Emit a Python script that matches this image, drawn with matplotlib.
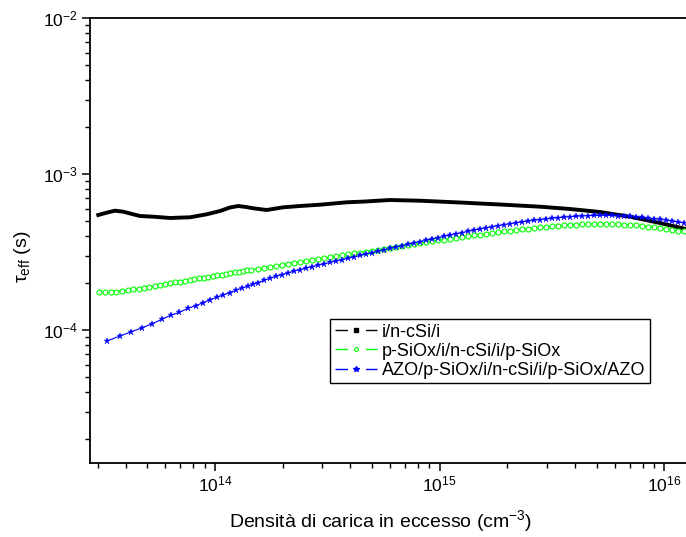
import matplotlib
matplotlib.use("Agg")
import matplotlib.pyplot as plt
from matplotlib.lines import Line2D
from matplotlib.ticker import LogLocator, NullFormatter

plt.rcParams['font.family'] = ['Liberation Sans', 'DejaVu Sans']
plt.rcParams['mathtext.fontset'] = 'custom'
plt.rcParams['mathtext.rm'] = 'Liberation Sans'
plt.rcParams['mathtext.it'] = 'Liberation Sans'
plt.rcParams['mathtext.default'] = 'regular'
plt.rcParams['axes.unicode_minus'] = False

# --- data (density in cm^-3, lifetime in s) ---
labels = ['i/n-cSi/i', 'p-SiOx/i/n-cSi/i/p-SiOx', 'AZO/p-SiOx/i/n-cSi/i/p-SiOx/AZO']

n_black = [3.024e13, 3.296e13, 3.589e13, 3.907e13, 4.272e13, 4.637e13, 5.314e13, 6.306e13,
           7.740e13, 9.186e13, 1.053e14, 1.166e14, 1.270e14, 1.374e14, 1.481e14, 1.698e14,
           2.014e14, 2.389e14, 2.934e14, 3.855e14, 4.651e14, 6.009e14, 8.172e14, 1.231e15,
           1.855e15, 2.796e15, 3.801e15, 5.169e15, 7.029e15, 9.559e15, 1.248e16]
tau_black = [5.460e-4, 5.651e-4, 5.819e-4, 5.732e-4, 5.541e-4, 5.380e-4, 5.325e-4, 5.224e-4,
             5.278e-4, 5.516e-4, 5.792e-4, 6.099e-4, 6.235e-4, 6.144e-4, 6.027e-4, 5.878e-4,
             6.117e-4, 6.235e-4, 6.356e-4, 6.584e-4, 6.662e-4, 6.812e-4, 6.742e-4, 6.565e-4,
             6.375e-4, 6.172e-4, 5.965e-4, 5.707e-4, 5.325e-4, 4.852e-4, 4.441e-4]

# low-injection points (sparse markers)
n_green_low = [3.047e13, 3.240e13, 3.435e13, 3.638e13, 3.867e13, 4.100e13, 4.329e13, 4.575e13,
               4.831e13, 5.101e13, 5.391e13, 5.675e13, 5.992e13, 6.306e13, 6.637e13, 6.985e13,
               7.353e13, 7.716e13, 8.089e13, 8.489e13, 8.907e13, 9.336e13, 9.797e13, 1.024e14,
               1.071e14, 1.119e14, 1.170e14, 1.224e14, 1.279e14, 1.336e14, 1.392e14, 1.450e14]
tau_green_low = [1.745e-4, 1.748e-4, 1.753e-4, 1.763e-4, 1.779e-4, 1.798e-4, 1.819e-4, 1.841e-4,
                 1.865e-4, 1.887e-4, 1.915e-4, 1.938e-4, 1.964e-4, 1.990e-4, 2.017e-4, 2.041e-4,
                 2.065e-4, 2.090e-4, 2.115e-4, 2.139e-4, 2.165e-4, 2.190e-4, 2.217e-4, 2.240e-4,
                 2.266e-4, 2.289e-4, 2.313e-4, 2.337e-4, 2.362e-4, 2.386e-4, 2.411e-4, 2.436e-4]

n_blue_low = [3.317e13, 3.778e13, 4.229e13, 4.748e13, 5.260e13, 5.810e13, 6.351e13, 6.936e13,
              7.559e13, 8.207e13, 8.870e13, 9.500e13, 1.018e14, 1.089e14, 1.163e14, 1.236e14,
              1.315e14, 1.398e14, 1.481e14]
tau_blue_low = [0.851e-4, 0.916e-4, 0.972e-4, 1.035e-4, 1.098e-4, 1.172e-4, 1.243e-4, 1.296e-4,
                1.375e-4, 1.432e-4, 1.497e-4, 1.565e-4, 1.622e-4, 1.677e-4, 1.735e-4, 1.798e-4,
                1.852e-4, 1.907e-4, 1.964e-4]

# high-injection part, read at common densities
n_high = [1.554e14, 1.652e14, 1.757e14, 1.868e14, 1.987e14, 2.113e14, 2.247e14, 2.389e14,
          2.541e14, 2.702e14, 2.873e14, 3.055e14, 3.249e14, 3.455e14, 3.674e14, 3.907e14,
          4.155e14, 4.418e14, 4.699e14, 4.997e14, 5.313e14, 5.650e14, 6.009e14, 6.390e14,
          6.795e14, 7.226e14, 7.684e14, 8.172e14, 8.690e14, 9.241e14, 9.827e14, 1.045e15,
          1.111e15, 1.182e15, 1.257e15, 1.337e15, 1.421e15, 1.511e15, 1.607e15, 1.709e15,
          1.818e15, 1.933e15, 2.056e15, 2.186e15, 2.325e15, 2.472e15, 2.629e15, 2.795e15,
          2.972e15, 3.161e15, 3.361e15, 3.574e15, 3.801e15, 4.042e15, 4.298e15, 4.571e15,
          4.861e15, 5.169e15, 5.497e15, 5.845e15, 6.216e15, 6.610e15, 7.029e15, 7.475e15,
          7.949e15, 8.453e15, 8.989e15, 9.559e15, 1.017e16, 1.081e16, 1.150e16, 1.223e16]
tau_green_high = [2.468e-4, 2.509e-4, 2.546e-4, 2.584e-4, 2.627e-4, 2.665e-4, 2.705e-4, 2.745e-4,
                  2.786e-4, 2.824e-4, 2.861e-4, 2.899e-4, 2.938e-4, 2.978e-4, 3.017e-4, 3.053e-4,
                  3.094e-4, 3.135e-4, 3.177e-4, 3.220e-4, 3.263e-4, 3.306e-4, 3.350e-4, 3.395e-4,
                  3.441e-4, 3.492e-4, 3.543e-4, 3.591e-4, 3.644e-4, 3.698e-4, 3.748e-4, 3.798e-4,
                  3.849e-4, 3.900e-4, 3.947e-4, 3.993e-4, 4.041e-4, 4.089e-4, 4.137e-4, 4.187e-4,
                  4.236e-4, 4.287e-4, 4.331e-4, 4.376e-4, 4.421e-4, 4.467e-4, 4.507e-4, 4.547e-4,
                  4.588e-4, 4.622e-4, 4.656e-4, 4.683e-4, 4.711e-4, 4.732e-4, 4.753e-4, 4.767e-4,
                  4.774e-4, 4.781e-4, 4.781e-4, 4.774e-4, 4.760e-4, 4.739e-4, 4.711e-4, 4.677e-4,
                  4.642e-4, 4.601e-4, 4.554e-4, 4.507e-4, 4.454e-4, 4.395e-4, 4.337e-4, 4.280e-4]
tau_blue_high = [2.014e-4, 2.080e-4, 2.143e-4, 2.207e-4, 2.266e-4, 2.323e-4, 2.383e-4, 2.439e-4,
                 2.493e-4, 2.546e-4, 2.599e-4, 2.654e-4, 2.709e-4, 2.766e-4, 2.824e-4, 2.883e-4,
                 2.942e-4, 3.004e-4, 3.066e-4, 3.130e-4, 3.196e-4, 3.263e-4, 3.330e-4, 3.400e-4,
                 3.471e-4, 3.543e-4, 3.617e-4, 3.687e-4, 3.759e-4, 3.832e-4, 3.906e-4, 3.982e-4,
                 4.059e-4, 4.137e-4, 4.211e-4, 4.286e-4, 4.363e-4, 4.441e-4, 4.514e-4, 4.588e-4,
                 4.663e-4, 4.732e-4, 4.802e-4, 4.866e-4, 4.931e-4, 4.990e-4, 5.049e-4, 5.102e-4,
                 5.155e-4, 5.201e-4, 5.247e-4, 5.286e-4, 5.325e-4, 5.356e-4, 5.380e-4, 5.404e-4,
                 5.420e-4, 5.428e-4, 5.428e-4, 5.420e-4, 5.404e-4, 5.380e-4, 5.348e-4, 5.309e-4,
                 5.270e-4, 5.224e-4, 5.170e-4, 5.117e-4, 5.057e-4, 4.990e-4, 4.924e-4, 4.859e-4]

n_green = n_green_low + n_high
tau_green = tau_green_low + tau_green_high
n_blue = n_blue_low + n_high
tau_blue = tau_blue_low + tau_blue_high

GREEN = '#00ff00'
BLUE = '#0000ff'

fig = plt.figure(figsize=(6.86, 5.37), dpi=100)
# axes runs slightly past the right edge, as in the cropped original
ax = fig.add_axes([90 / 686, 74 / 537, 610 / 686, 445 / 537])

ax.plot(n_black, tau_black, color='black', lw=2.8, solid_joinstyle='round', zorder=3)
ax.plot(n_green, tau_green, color=GREEN, lw=0.8, marker='o', ms=3.6, mfc='white',
        mec=GREEN, mew=0.8, zorder=4)
ax.plot(n_blue, tau_blue, color=BLUE, lw=0.8, marker='*', ms=5, mfc=BLUE, mec=BLUE,
        mew=0.3, zorder=5)

ax.set_xscale('log')
ax.set_yscale('log')
ax.set_xlim(2.778e13, 1.441e16)
ax.set_ylim(1.404e-5, 1e-2)

ax.xaxis.set_major_locator(LogLocator(base=10, numticks=10))
ax.xaxis.set_minor_locator(LogLocator(base=10, subs=range(2, 10), numticks=30))
ax.yaxis.set_minor_locator(LogLocator(base=10, subs=range(2, 10), numticks=30))
ax.xaxis.set_minor_formatter(NullFormatter())
ax.yaxis.set_minor_formatter(NullFormatter())

for side in ['left', 'bottom', 'top']:
    ax.spines[side].set_linewidth(1.3)
ax.spines['right'].set_visible(False)

ax.tick_params(which='major', direction='out', length=6, width=1.1, labelsize=12.5, pad=2.5)
ax.tick_params(which='minor', direction='out', length=3.4, width=1.0)
ax.tick_params(top=False, right=False, which='both')

ax.set_xlabel('Densità di carica in eccesso (cm$^{-3}$)', fontsize=14)
ax.set_ylabel('τ$_{eff}$ (s)', fontsize=14)
ax.xaxis.set_label_coords(0.477, -0.102)
ax.yaxis.set_label_coords(-0.093, 0.463)

# Origin-style legend handles: dash, marker in a gap, dash
handles = [
    Line2D([], [], color='black', lw=1, dashes=(9, 13), marker='s', ms=2.6),
    Line2D([], [], color=GREEN, lw=1, dashes=(9, 13), marker='o', ms=2.8, mfc='white',
           mec=GREEN, mew=0.8),
    Line2D([], [], color=BLUE, lw=1, dashes=(9, 13), marker='*', ms=4.2),
]
leg = ax.legend(handles, labels, loc='upper left',
                bbox_to_anchor=(330 / 686, 1 - 319 / 537), bbox_transform=fig.transFigure,
                fontsize=13, frameon=True, fancybox=False, framealpha=1, edgecolor='black',
                borderpad=0.25, borderaxespad=0, handlelength=2.38, handletextpad=0.25,
                labelspacing=0.12, numpoints=1)
leg.get_frame().set_linewidth(1.0)

fig.savefig('out.png', dpi=100)
